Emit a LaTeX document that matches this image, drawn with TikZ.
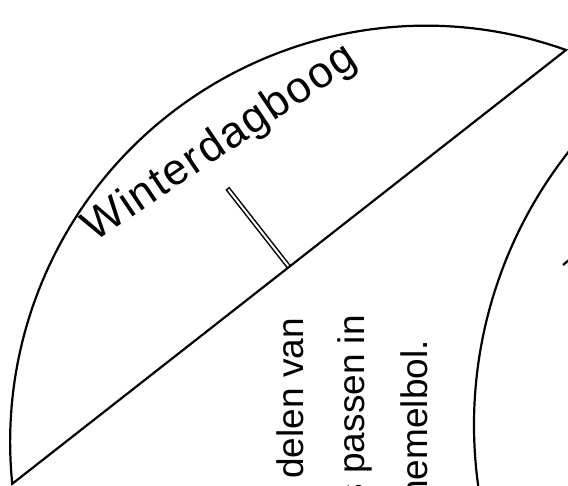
\documentclass[tikz,border=0pt]{standalone}
\usepackage{fontspec}
\setmainfont{Liberation Sans}
\newfontfamily\spacedsans[LetterSpace=4]{Liberation Sans}
\usetikzlibrary{calc}
\begin{document}
\begin{tikzpicture}[x=1pt,y=1pt,
  outline/.style={line width=2.2pt, line join=miter},
  vtext/.style={inner sep=0pt, rotate=90, anchor=base east, font=\fontsize{37}{44}\selectfont},
  arctext/.style={inner sep=0pt, rotate=34, anchor=base west, font=\spacedsans\fontsize{44}{52}\selectfont},
]
\useasboundingbox (0,0) rectangle (568,486);
\clip (0,0) rectangle (568,486);
% big circle segment
\coordinate (O) at (426,44);
\coordinate (A) at (12,2);
\coordinate (B) at (566,436);
\coordinate (M) at ($(A)!0.5!(B)$);
\coordinate (T) at ($(M)!100pt!90:(B)$);
% double marker line
\draw[line width=5pt] (M) -- (T);
\draw[white, line width=2pt, shorten >=1.5pt] (M) -- (T);
\draw[outline] (B) arc[start angle=70.35, end angle=185.8, radius=416pt] -- cycle;
% inner arc
\coordinate (C2) at (916,61);
\coordinate (I1) at ($(C2)+(140:442pt)$);
\draw[outline] (I1) arc[start angle=140, end angle=192, radius=442pt];
% small tick at the right edge
\coordinate (K1) at (563,221);
\coordinate (K2) at (575,231);
\draw[outline] (K1) -- (K2);
% texts
\node[arctext] (wdb) at (94,243) {Winterdagboog};
\node[vtext] (l1) at (303,168) {delen van};
\node[vtext] (l2) at (364,171) {s passen in};
\node[vtext] (l3) at (427,146) {hemelbol.};
\end{tikzpicture}
\end{document}
